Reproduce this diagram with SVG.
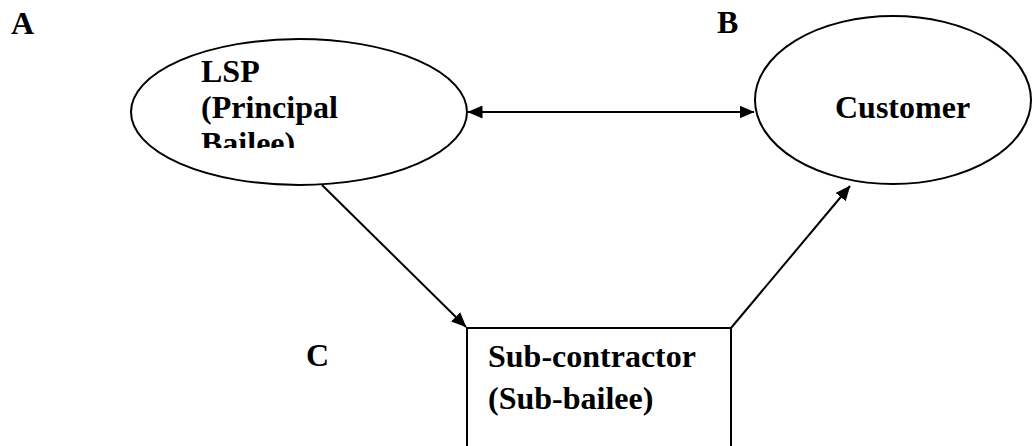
<svg xmlns="http://www.w3.org/2000/svg" width="1032" height="446" viewBox="0 0 1032 446">
<style>
.t{font-family:"Liberation Serif","Times New Roman",serif;font-weight:bold;font-size:32px;fill:#000}
.s{fill:#fff;stroke:#000;stroke-width:2}
.c{stroke:#000;stroke-width:2;fill:none}
</style>
<defs>
<marker id="ah" viewBox="0 0 15 13" refX="14.5" refY="6.5" markerWidth="15" markerHeight="13" markerUnits="userSpaceOnUse" orient="auto-start-reverse">
<path d="M0,0 L15,6.5 L0,13 Z" fill="#000"/>
</marker>
<clipPath id="lspclip"><rect x="130" y="40" width="340" height="108"/></clipPath>
</defs>
<rect width="1032" height="446" fill="#fff"/>
<g id="labels">
<text class="t" x="11" y="34">A</text>
<text class="t" x="717" y="33">B</text>
<text class="t" x="306" y="366">C</text>
</g>
<g id="lsp">
<ellipse class="s" cx="299" cy="112" rx="168" ry="73"/>
<g clip-path="url(#lspclip)">
<text class="t" x="201" y="82">LSP</text>
<text class="t" x="201" y="118">(Principal</text>
<text class="t" x="201" y="154">Bailee)</text>
</g>
</g>
<g id="customer">
<ellipse class="s" cx="893" cy="100" rx="138" ry="84"/>
<text class="t" x="835" y="118">Customer</text>
</g>
<g id="subcontractor">
<rect class="s" x="467" y="328" width="264" height="130"/>
<text class="t" x="488" y="367">Sub-contractor</text>
<text class="t" x="488" y="409">(Sub-bailee)</text>
</g>
<g id="connectors">
<line class="c" x1="468" y1="112" x2="754" y2="112" marker-start="url(#ah)" marker-end="url(#ah)"/>
<line class="c" x1="322" y1="185" x2="466" y2="327" marker-end="url(#ah)"/>
<line class="c" x1="731" y1="328" x2="850" y2="186" marker-end="url(#ah)"/>
</g>
</svg>
